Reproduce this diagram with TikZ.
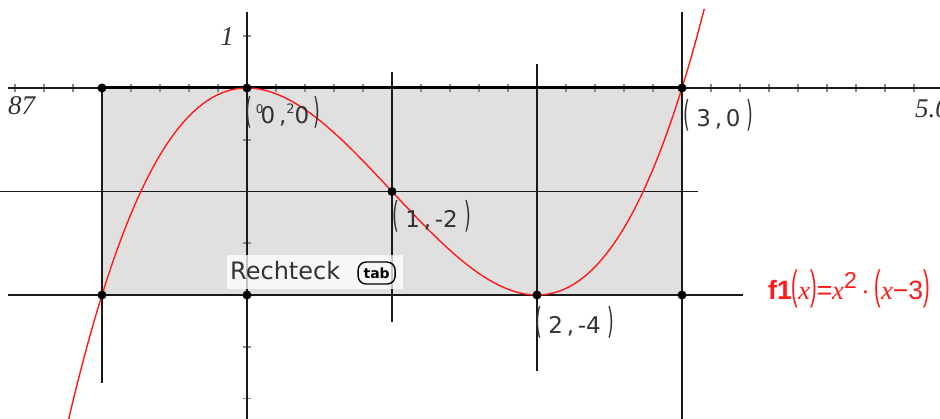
\documentclass[tikz,border=0pt]{standalone}
\usepackage{fontspec}
\setmainfont{DejaVu Sans}
\newfontfamily\lserif{Liberation Serif}
\newfontfamily\lsans{Liberation Sans}
\usepackage{graphicx}
\definecolor{rectgray}{HTML}{E0E0E0}
\definecolor{linec}{HTML}{1A1A1A}
\definecolor{tickc}{HTML}{8C8C8C}
\definecolor{labc}{HTML}{333333}
\definecolor{fred}{HTML}{FF1A1A}
\newcommand{\tpar}[1]{\scalebox{0.75}[1.55]{#1}}
\begin{document}
\begin{tikzpicture}[x=145pt, y=51.75pt,
  gline/.style={draw=linec, line width=1.6pt},
  topline/.style={draw=black, line width=3pt},
  tickmark/.style={draw=tickc, line width=1.8pt},
  dot/.style={circle, fill=black, inner sep=0pt, minimum size=9pt},
  coordlab/.style={text=labc, inner sep=0pt, anchor=north west, font=\fontsize{23pt}{27pt}\selectfont},
  axlab/.style={text=labc, inner sep=0pt, font=\lserif\itshape\fontsize{27pt}{30pt}\selectfont},
  labbox/.style={fill=white, fill opacity=0.75, inner sep=0pt, anchor=north west, minimum width=176pt, minimum height=34pt},
  tabkey/.style={draw=black, line width=1.4pt, rounded corners=8pt, inner sep=0pt, minimum width=37pt, minimum height=22pt, font=\bfseries\fontsize{14pt}{16pt}\selectfont},
  curve/.style={draw=fred, line width=1.4pt}
]
\useasboundingbox (-247/145, 88/51.75) rectangle (693/145, -331/51.75);

% coordinates
\coordinate (c00) at (0,0);
\coordinate (c30) at (3,0);
\coordinate (cm10) at (-1,0);
\coordinate (c1m2) at (1,-2);
\coordinate (cm1m4) at (-1,-4);
\coordinate (c0m4) at (0,-4);
\coordinate (c2m4) at (2,-4);
\coordinate (c3m4) at (3,-4);
\coordinate (xaxL) at (-1.648,0);
\coordinate (xaxR) at (4.85,0);
\coordinate (yaxT) at (0,1.469);
\coordinate (yaxB) at (0,-6.45);
\coordinate (v3T) at (3,1.469);
\coordinate (v3B) at (3,-6.45);
\coordinate (vm1B) at (-1,-5.70);
\coordinate (v1T) at (1,0.309);
\coordinate (v1B) at (1,-4.52);
\coordinate (v2T) at (2,0.464);
\coordinate (v2B) at (2,-5.47);
\coordinate (h2L) at (-1.75,-2);
\coordinate (h2R) at (3.11,-2);
\coordinate (h4L) at (-1.648,-4);
\coordinate (h4R) at (3.42,-4);

% rectangle fill
\fill[rectgray] (cm10) rectangle (c3m4);

% ticks
\foreach \t in {-1.6,-1.4,-1.2,-1.0,-0.8,-0.6,-0.4,-0.2,0.2,0.4,0.6,0.8,1.0,1.2,1.4,1.6,1.8,2.0,2.2,2.4,2.6,2.8,3.2,3.4,3.6,3.8,4.0,4.2,4.4,4.6,4.8}
  \draw[tickmark] (\t,0.07) -- (\t,-0.07);
\foreach \t in {1,-1,-3,-5,-6}
  \draw[tickmark] (-0.028,\t) -- (0.028,\t);

% lines
\draw[gline] (xaxL) -- (xaxR);
\draw[gline] (yaxT) -- (yaxB);
\draw[gline] (v3T) -- (v3B);
\draw[gline] (cm10) -- (vm1B);
\draw[gline] (v1T) -- (v1B);
\draw[gline] (v2T) -- (v2B);
\draw[gline] (h2L) -- (h2R);
\draw[gline] (h4L) -- (h4R);
\draw[topline] (cm10) -- (c30);

% curve
\draw[curve, domain=-1.24:3.155, samples=160, smooth] plot (\x, {\x*\x*(\x-3)});

% dots
\node[dot] (P00) at (c00) {};
\node[dot] (P30) at (c30) {};
\node[dot] (Pm10) at (cm10) {};
\node[dot] (P1m2) at (c1m2) {};
\node[dot] (Pm1m4) at (cm1m4) {};
\node[dot] (P0m4) at (c0m4) {};
\node[dot] (P2m4) at (c2m4) {};
\node[dot] (P3m4) at (c3m4) {};

% coordinate labels
\node[coordlab] (L00) at ([shift={(-2pt,-8pt)}]P00.center)
  {\tpar{(}\,\raisebox{0.42em}{\fontsize{12pt}{12pt}\selectfont 0}\kern-0.12em0\,,\raisebox{0.42em}{\fontsize{13pt}{13pt}\selectfont 2}0\,\tpar{)}};
\node[coordlab] (L30) at ([shift={(1pt,-11pt)}]P30.center) {\tpar{(}\;3\,,\,0\;\tpar{)}};
\node[coordlab] (L1m2) at ([shift={(0pt,-9pt)}]P1m2.center) {\tpar{(}\;1\,,\,-2\;\tpar{)}};
\node[coordlab] (L2m4) at ([shift={(-2pt,-11pt)}]P2m4.center) {\tpar{(}\;2\,,\,-4\;\tpar{)}};

% axis labels
\node[axlab, anchor=north west] (T87) at (-239/145, -8/51.75) {87};
\node[axlab, anchor=north east] (T1) at (-13/145, 61/51.75) {1};
\node[axlab, anchor=north west] (T5) at (668/145, -11/51.75) {5.0};

% Rechteck label
\node[labbox] (RB) at ([shift={(-20pt,40pt)}]P0m4.center) {};
\node[text=labc, inner sep=0pt, anchor=base west, font=\fontsize{24pt}{28pt}\selectfont] (RT) at ([shift={(3pt,-25pt)}]RB.north west) {Rechteck};
\node[tabkey, anchor=west] (TB) at ([shift={(17pt,-2pt)}]RT.east) {tab};

% function label
\node[text=fred, inner sep=0pt, anchor=base west, font=\lsans\fontsize{26.5pt}{30pt}\selectfont] (F1) at ([shift={(86pt,-5pt)}]P3m4.center)
  {{\bfseries f1}\tpar{(}{\lserif\itshape x}\tpar{)}={\lserif\itshape x}\raisebox{0.45em}{\fontsize{23pt}{26pt}\selectfont 2}\,·\,\tpar{(}{\lserif\itshape x}−3\tpar{)}};
\end{tikzpicture}
\end{document}
